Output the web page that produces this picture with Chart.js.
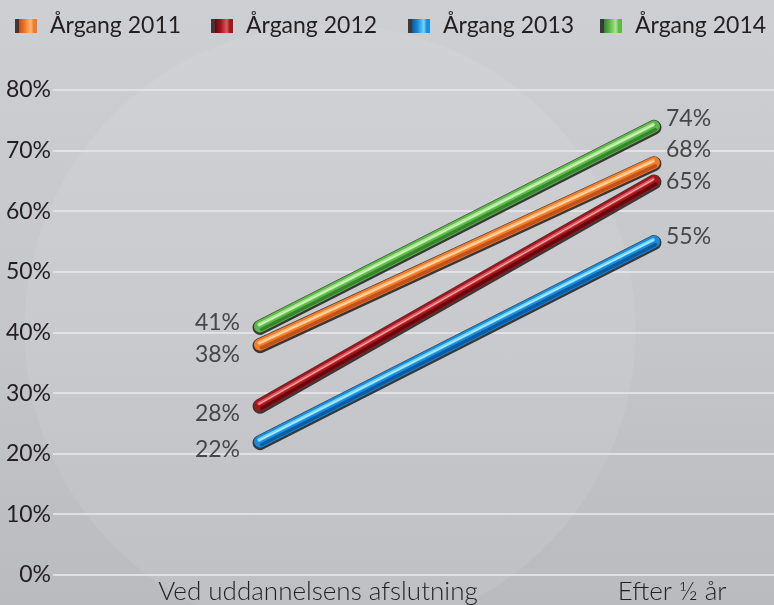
<!DOCTYPE html>
<html>
<head>
<meta charset="utf-8">
<title>Årgange</title>
<script src="https://cdn.jsdelivr.net/npm/chart.js"></script>
<style>
html, body { margin: 0; padding: 0; }
body {
  width: 774px; height: 605px; overflow: hidden;
  background:
    radial-gradient(circle at 330px 330px, rgba(255,255,255,0.07) 0, rgba(255,255,255,0.07) 305px, rgba(255,255,255,0) 306px),
    linear-gradient(180deg, #cecfd2 0%, #c5c6c9 55%, #babbbf 100%);
}
canvas { display: block; }
</style>
</head>
<body>
<canvas id="aargange" width="774" height="605"></canvas>
<script>
// data
const categories = ["Ved uddannelsens afslutning", "Efter ½ år"];
const seriesNames = ["Årgang 2011", "Årgang 2012", "Årgang 2013", "Årgang 2014"];
const aargang2011 = [38, 68];
const aargang2012 = [28, 65];
const aargang2013 = [22, 55];
const aargang2014 = [41, 74];
const yTicks = [0, 10, 20, 30, 40, 50, 60, 70, 80];

const allSeries = [aargang2011, aargang2012, aargang2013, aargang2014];

// looks
const tubeColors = [
  { main: "#f27a2a", light: "#ffbb72", dark: "#c2521a" },
  { main: "#a3161d", light: "#dc5a5e", dark: "#6a070c" },
  { main: "#1a8cdb", light: "#74d6f7", dark: "#0b5ca6" },
  { main: "#5cb94a", light: "#ace690", dark: "#37862f" }
];
const leftNudge = [10, 8, 8, -4];
const rightNudge = [-13, 1, -5, -8];
const legendX = [15, 211, 408, 600];
const tickAt = [0.147, 1.046];   // where category labels sit on the x scale

const FONT = "Lato, 'Open Sans', sans-serif";

// thick tube lines with outline + highlight
const tubes = {
  id: "tubes",
  beforeDatasetDraw(chart, args) {
    const p = args.meta.data;
    const ctx = chart.ctx;
    ctx.save();
    ctx.lineCap = "round";
    ctx.strokeStyle = "rgba(40,40,40,0.9)";
    ctx.lineWidth = 15;
    ctx.beginPath();
    ctx.moveTo(p[0].x, p[0].y + 1);
    ctx.lineTo(p[1].x, p[1].y + 1);
    ctx.stroke();
    ctx.restore();
  },
  afterDatasetDraw(chart, args) {
    const p = args.meta.data;
    const c = tubeColors[args.index];
    const ctx = chart.ctx;
    const dx = p[1].x - p[0].x, dy = p[1].y - p[0].y;
    const len = Math.sqrt(dx * dx + dy * dy);
    const nx = -dy / len, ny = dx / len;
    const stripe = (off, w, col) => {
      ctx.strokeStyle = col;
      ctx.lineWidth = w;
      ctx.beginPath();
      ctx.moveTo(p[0].x + nx * off, p[0].y + ny * off);
      ctx.lineTo(p[1].x + nx * off, p[1].y + ny * off);
      ctx.stroke();
    };
    ctx.save();
    ctx.lineCap = "round";
    stripe(3.5, 3.5, c.dark);
    stripe(-2, 3.5, c.light);
    stripe(-1.5, 1, "rgba(255,255,255,0.55)");
    ctx.restore();
  }
};

// value labels at both ends
const endLabels = {
  id: "endLabels",
  afterDatasetsDraw(chart) {
    const ctx = chart.ctx;
    ctx.save();
    ctx.font = "23px " + FONT;
    ctx.fillStyle = "#474747";
    ctx.textBaseline = "middle";
    chart.data.datasets.forEach((ds, i) => {
      const p = chart.getDatasetMeta(i).data;
      ctx.textAlign = "right";
      ctx.fillText(ds.data[0].y + "%", p[0].x - 20, p[0].y + leftNudge[i]);
      ctx.textAlign = "left";
      ctx.fillText(ds.data[1].y + "%", p[1].x + 12, p[1].y + rightNudge[i]);
    });
    ctx.restore();
  }
};

// legend row on top
const topLegend = {
  id: "topLegend",
  afterDraw(chart) {
    const ctx = chart.ctx;
    ctx.save();
    chart.data.datasets.forEach((ds, i) => {
      const c = tubeColors[i];
      const x = legendX[i], y = 19;
      const g = ctx.createLinearGradient(x, 0, x + 22, 0);
      g.addColorStop(0, "#3a3a3a");
      g.addColorStop(0.16, "#3a3a3a");
      g.addColorStop(0.2, c.dark);
      g.addColorStop(0.45, c.main);
      g.addColorStop(0.72, c.light);
      g.addColorStop(0.85, c.main);
      g.addColorStop(1, c.main);
      ctx.fillStyle = g;
      ctx.fillRect(x, y, 22, 14);
      ctx.font = "23px " + FONT;
      ctx.fillStyle = "#231f20";
      ctx.textAlign = "left";
      ctx.textBaseline = "middle";
      ctx.fillText(ds.label, x + 35, y + 7);
    });
    ctx.restore();
  }
};

new Chart(document.getElementById("aargange"), {
  type: "line",
  data: {
    datasets: allSeries.map((vals, i) => ({
      label: seriesNames[i],
      data: vals.map((v, k) => ({ x: k, y: v })),
      borderColor: tubeColors[i].main,
      borderWidth: 12,
      borderCapStyle: "round",
      pointRadius: 0,
      tension: 0
    }))
  },
  options: {
    responsive: false,
    devicePixelRatio: 1,
    animation: false,
    layout: { padding: { top: 90, right: 0, bottom: 0, left: 0 } },
    plugins: {
      legend: { display: false },
      tooltip: { enabled: false }
    },
    scales: {
      x: {
        type: "linear",
        min: -0.5254,
        max: 1.3046,
        afterBuildTicks: (axis) => { axis.ticks = tickAt.map(v => ({ value: v })); },
        afterFit: (axis) => { axis.height = 30; },
        grid: { display: false, drawTicks: false },
        border: { display: false },
        ticks: {
          autoSkip: false,
          maxRotation: 0,
          padding: 1,
          color: "#231f20",
          font: { family: FONT, size: 26, weight: "300" },
          callback: (v, idx) => categories[idx]
        }
      },
      y: {
        min: 0,
        max: 80,
        afterBuildTicks: (axis) => { axis.ticks = yTicks.map(v => ({ value: v })); },
        afterFit: (axis) => { axis.width = 53; },
        grid: { color: "rgba(226,227,229,0.95)", lineWidth: 2, drawTicks: false },
        border: { display: false },
        ticks: {
          padding: 2,
          color: "#231f20",
          font: { family: FONT, size: 23 },
          callback: (v) => v + "%"
        }
      }
    }
  },
  plugins: [tubes, endLabels, topLegend]
});
</script>
</body>
</html>
